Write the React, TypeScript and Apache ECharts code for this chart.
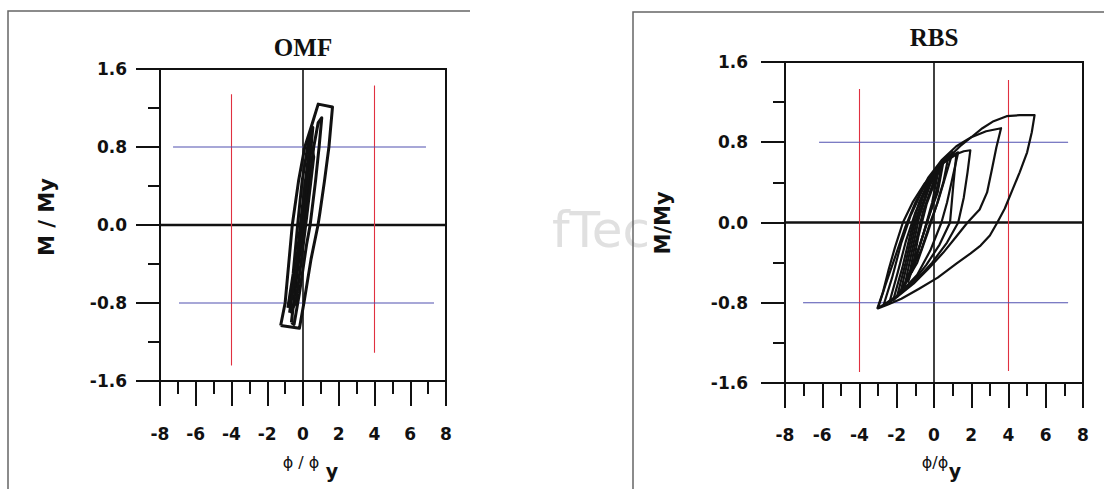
import React, { useEffect, useRef } from "react";
import * as echarts from "echarts";

// ---- data ----
const xTicks = [-8, -6, -4, -2, 0, 2, 4, 6, 8];
const yTicks = [-1.6, -0.8, 0.0, 0.8, 1.6];
const titles = ["OMF", "RBS"];
const yNames = ["M / My", "M/My"];

// OMF hysteresis loops
const omfOuter = [[-1.25,-1.03],[-0.2,-1.06],[0.05,-0.8],[0.45,-0.35],[0.84,0.0],[0.95,0.13],[1.2,0.45],[1.45,0.8],[1.65,1.21],[0.85,1.24],[0.45,1.0],[0.1,0.8],[-0.25,0.45],[-0.6,0.0],[-1.0,-0.8],[-1.25,-1.03]];
const omfInner1 = [[-0.65,-1.0],[-0.5,-1.02],[-0.2,-0.7],[0.2,-0.2],[0.4,0.0],[0.7,0.45],[0.9,0.8],[1.05,1.1],[0.85,1.05],[0.6,0.8],[0.3,0.35],[0.05,0.0],[-0.3,-0.45],[-0.65,-1.0]];
const omfInner2 = [[-0.85,-0.85],[-0.55,-0.5],[-0.3,0.0],[-0.05,0.45],[0.3,0.85],[0.55,1.0],[0.4,0.7],[0.15,0.3],[-0.1,-0.1],[-0.45,-0.6],[-0.85,-0.85]];
const omfInner3 = [[-0.75,-0.9],[-0.4,-0.45],[-0.15,0.0],[0.1,0.4],[0.4,0.85],[0.6,0.7],[0.25,0.15],[-0.05,-0.3],[-0.4,-0.8],[-0.75,-0.9]];

// RBS hysteresis loops
const rbsOuter = [[-3.05,-0.86],[-2.75,-0.7],[-2.45,-0.48],[-2.1,-0.25],[-1.67,0.0],[-1.15,0.2],[-0.5,0.39],[0.2,0.54],[0.8,0.65],[1.4,0.76],[2.0,0.85],[2.6,0.94],[3.2,1.01],[3.9,1.06],[4.6,1.07],[5.4,1.07],[5.25,0.9],[5.0,0.7],[4.6,0.5],[4.2,0.32],[3.8,0.14],[3.4,0.0],[3.0,-0.13],[2.5,-0.23],[1.95,-0.31],[1.2,-0.41],[0.2,-0.55],[-0.8,-0.66],[-1.75,-0.76],[-2.5,-0.82],[-3.05,-0.86]];
const rbsSecond = [[-3.0,-0.85],[-2.6,-0.62],[-2.1,-0.35],[-1.55,-0.05],[-1.0,0.2],[-0.3,0.45],[0.4,0.62],[1.2,0.76],[2.0,0.85],[2.8,0.91],[3.6,0.94],[3.35,0.75],[3.1,0.52],[2.85,0.3],[2.45,0.13],[1.8,0.0],[1.2,-0.14],[0.5,-0.3],[-0.3,-0.46],[-1.1,-0.61],[-1.9,-0.73],[-2.5,-0.8],[-3.0,-0.85]];
const rbsL3 = [[-2.7,-0.82],[-2.25,-0.55],[-1.75,-0.2],[-1.25,0.07],[-0.6,0.33],[0.2,0.55],[0.9,0.66],[1.6,0.71],[1.95,0.72],[1.8,0.5],[1.6,0.25],[1.3,0.0],[0.7,-0.2],[-0.1,-0.4],[-1.0,-0.58],[-1.9,-0.72],[-2.7,-0.82]];
const rbsL4 = [[-2.4,-0.8],[-1.95,-0.5],[-1.5,-0.18],[-1.0,0.1],[-0.35,0.38],[0.4,0.58],[1.2,0.68],[1.05,0.4],[0.86,0.0],[0.3,-0.22],[-0.4,-0.42],[-1.3,-0.63],[-2.4,-0.8]];
const rbsL5 = [[-2.2,-0.78],[-1.7,-0.45],[-1.25,-0.1],[-0.8,0.2],[-0.2,0.45],[0.5,0.62],[1.3,0.7],[1.0,0.45],[0.7,0.2],[0.4,0.0],[-0.2,-0.28],[-0.9,-0.52],[-2.2,-0.78]];
const rbsL6 = [[-2.0,-0.75],[-1.55,-0.42],[-1.1,-0.05],[-0.6,0.25],[0.0,0.5],[0.8,0.68],[0.5,0.4],[0.1,0.15],[-0.3,-0.08],[-0.9,-0.4],[-2.0,-0.75]];
const rbsL7 = [[-1.8,-0.7],[-1.4,-0.38],[-0.95,0.0],[-0.4,0.3],[0.2,0.55],[1.0,0.7],[0.6,0.45],[0.2,0.2],[-0.2,0.0],[-0.7,-0.28],[-1.8,-0.7]];
const rbsL8 = [[-1.6,-0.65],[-1.2,-0.3],[-0.8,0.05],[-0.2,0.38],[0.5,0.6],[0.2,0.3],[-0.3,0.05],[-0.8,-0.25],[-1.6,-0.65]];
const rbsL9 = [[-1.4,-0.6],[-1.05,-0.25],[-0.6,0.1],[0.0,0.42],[0.4,0.55],[0.05,0.25],[-0.45,-0.05],[-0.9,-0.3],[-1.4,-0.6]];
const rbsL10 = [[-1.2,-0.5],[-0.85,-0.15],[-0.4,0.18],[0.2,0.48],[-0.1,0.2],[-0.55,-0.1],[-1.2,-0.5]];

// reference lines
const omfRedLeft = [[-4,1.34],[-4,-1.44]];
const omfRedRight = [[4,1.43],[4,-1.31]];
const omfBlueTop = [[-7.27,0.8],[6.88,0.8]];
const omfBlueBottom = [[-6.94,-0.8],[7.33,-0.8]];
const rbsRedLeft = [[-4,1.33],[-4,-1.49]];
const rbsRedRight = [[4,1.42],[4,-1.48]];
const rbsBlueTop = [[-6.17,0.8],[7.2,0.8]];
const rbsBlueBottom = [[-7.03,-0.8],[7.2,-0.8]];
const zeroH = [[-8,0],[8,0]];
const zeroV = [[0,-1.6],[0,1.6]];

const omfLoops = [omfOuter, omfInner1, omfInner2, omfInner3];
const rbsLoops = [rbsOuter, rbsSecond, rbsL3, rbsL4, rbsL5, rbsL6, rbsL7, rbsL8, rbsL9, rbsL10];

const FONT = "'DejaVu Sans', 'Liberation Sans', Arial, sans-serif";
const SERIF = "'Liberation Serif', 'DejaVu Serif', serif";

function makeX(gridIndex: number, margin: number) {
  return {
    type: "value", gridIndex, min: xTicks[0], max: xTicks[xTicks.length - 1], interval: 2,
    axisLine: { show: true, onZero: false, lineStyle: { color: "#111", width: 2 } },
    axisTick: { show: true, inside: false, length: 25, lineStyle: { color: "#111", width: 2 } },
    minorTick: { show: true, splitNumber: 2, length: 13, lineStyle: { color: "#111", width: 2 } },
    splitLine: { show: false },
    axisLabel: { margin, color: "#111", fontFamily: FONT, fontWeight: "bold", fontSize: 17,
      formatter: (v: number) => String(Math.round(v)) },
  };
}
function makeY(gridIndex: number, margin: number) {
  return {
    type: "value", gridIndex, min: yTicks[0], max: yTicks[yTicks.length - 1], interval: 0.8,
    axisLine: { show: true, onZero: false, lineStyle: { color: "#111", width: 2 } },
    axisTick: { show: true, inside: false, length: 24, lineStyle: { color: "#111", width: 2 } },
    minorTick: { show: true, splitNumber: 2, length: 12, lineStyle: { color: "#111", width: 2 } },
    splitLine: { show: false },
    axisLabel: { margin, color: "#111", fontFamily: FONT, fontWeight: "bold", fontSize: 17,
      formatter: (v: number) => v.toFixed(1) },
  };
}
function seg(data: number[][], idx: number, color: string, width: number, z = 2) {
  return {
    type: "line", xAxisIndex: idx, yAxisIndex: idx, data, symbol: "none", silent: true,
    lineStyle: { color, width, join: "round" }, z,
  };
}

export default function App() {
  const ref = useRef<HTMLDivElement>(null);
  useEffect(() => {
    document.body.style.margin = "0";
    const chart = echarts.init(ref.current!, null, { renderer: "svg" });
    const series: any[] = [];
    [0, 1].forEach((i) => {
      series.push(seg(zeroH, i, "#111", 2.6, 1));
      series.push(seg(zeroV, i, "#111", 1.6, 1));
    });
    series.push(seg(omfRedLeft, 0, "#e03040", 1.1));
    series.push(seg(omfRedRight, 0, "#e03040", 1.1));
    series.push(seg(omfBlueTop, 0, "#5050b0", 1.1));
    series.push(seg(omfBlueBottom, 0, "#5050b0", 1.1));
    series.push(seg(rbsRedLeft, 1, "#e03040", 1.1));
    series.push(seg(rbsRedRight, 1, "#e03040", 1.1));
    series.push(seg(rbsBlueTop, 1, "#5050b0", 1.1));
    series.push(seg(rbsBlueBottom, 1, "#5050b0", 1.1));
    omfLoops.forEach((l) => series.push(seg(l, 0, "#111", 3, 3)));
    rbsLoops.forEach((l) => series.push(seg(l, 1, "#111", 2.2, 3)));

    const txt = (x: number, y: number, text: string, font: any, extra: any = {}) => ({
      type: "text", x, y, silent: true, ...extra,
      style: { text, fill: "#111", align: "center", verticalAlign: "middle", ...font },
    });

    chart.setOption({
      animation: false,
      backgroundColor: "#fff",
      grid: [
        { left: 160, top: 69, width: 286, height: 312, show: true, borderColor: "#111", borderWidth: 2, backgroundColor: "#fff" },
        { left: 785, top: 62, width: 298, height: 321, show: true, borderColor: "#111", borderWidth: 2, backgroundColor: "#fff" },
      ],
      xAxis: [makeX(0, 44), makeX(1, 43)],
      yAxis: [makeY(0, 33), makeY(1, 37)],
      series,
      graphic: [
        { type: "text", x: 552, y: 230, z: -1, silent: true,
          style: { text: "fTec", fill: "#e0e0e0", fontSize: 50, fontFamily: FONT, verticalAlign: "middle" } },
        { type: "polyline", silent: true, shape: { points: [[8, 489], [8, 11], [470, 11]] },
          style: { stroke: "#666", lineWidth: 1.5, fill: null } },
        { type: "polyline", silent: true, shape: { points: [[633, 489], [633, 12], [1104, 12]] },
          style: { stroke: "#666", lineWidth: 1.5, fill: null } },
        txt(303, 47, titles[0], { fontSize: 25, fontFamily: SERIF, fontWeight: "bold" }),
        txt(934, 37, titles[1], { fontSize: 25, fontFamily: SERIF, fontWeight: "bold" }),
        txt(47, 217, yNames[0], { fontSize: 21, fontFamily: FONT, fontWeight: "bold" }, { rotation: Math.PI / 2 }),
        txt(663, 223, yNames[1], { fontSize: 21, fontFamily: FONT, fontWeight: "bold" }, { rotation: Math.PI / 2 }),
        txt(301, 462, "\u03d5 / \u03d5", { fontSize: 16, fontFamily: FONT }),
        txt(332, 471, "y", { fontSize: 19, fontFamily: FONT, fontWeight: "bold" }),
        txt(935, 462, "\u03d5/\u03d5", { fontSize: 16, fontFamily: FONT }),
        txt(955, 471, "y", { fontSize: 19, fontFamily: FONT, fontWeight: "bold" }),
      ],
    });
    return () => chart.dispose();
  }, []);
  return <div ref={ref} style={{ position: "fixed", left: 0, top: 0, width: 1104, height: 489 }} />;
}
